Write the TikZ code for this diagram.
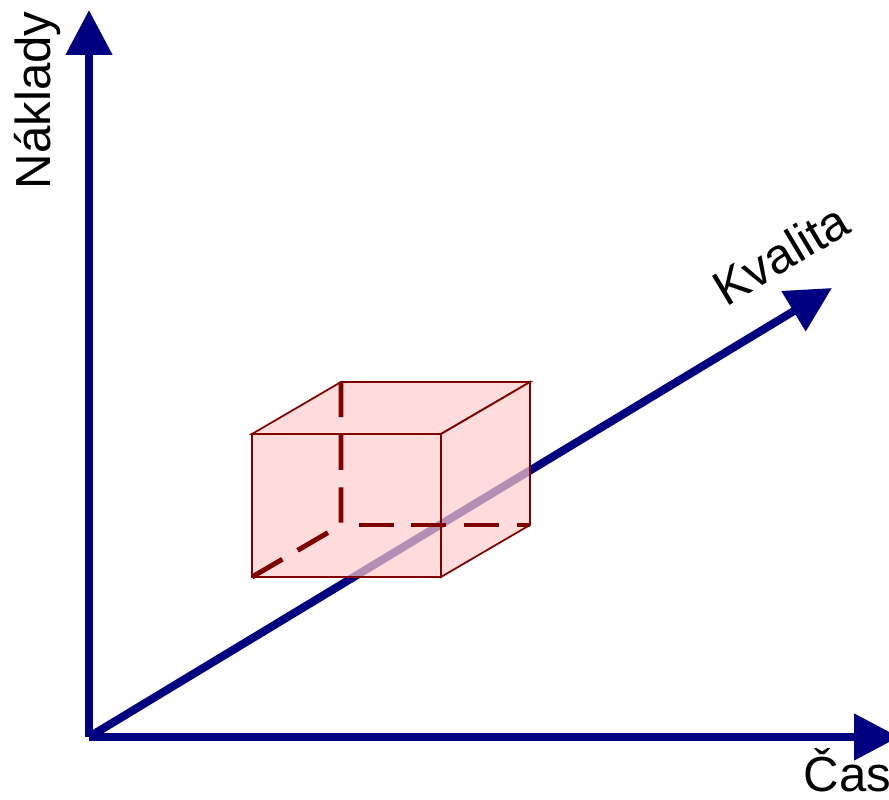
\documentclass[tikz,border=0pt]{standalone}
\usepackage{fontspec}
\setmainfont{Liberation Sans}
\usetikzlibrary{arrows.meta}
\definecolor{axisblue}{RGB}{0,0,128}
\definecolor{cubered}{RGB}{128,0,0}
\definecolor{cubepink}{RGB}{255,205,205}

\begin{document}
\begin{tikzpicture}[>={Triangle[width=0.45cm,length=0.45cm]},
  axis/.style={->, line width=2.3pt, axisblue},
  face/.style={fill=cubepink, fill opacity=0.7, draw=cubered, line width=0.5pt},
  hidden/.style={cubered, line width=1.4pt, dash pattern=on 10pt off 5pt},
  lab/.style={font=\fontsize{14}{16}\selectfont, text=black, inner sep=0pt}]

\useasboundingbox (0,0) rectangle (8.89,8.00);

% --- Axis end points ---
\coordinate (O) at (0.89,0.63);
\coordinate (naklady) at (0.89,7.90);
\coordinate (cas) at (8.99,0.63);
\coordinate (kvalita) at (8.32,5.12);

% --- Axes (drawn first so the cube covers the diagonal) ---
\draw[axis] (O) -- (naklady);
\draw[axis] (O) -- (cas);
\draw[axis] (O) -- (kvalita);

% --- Cube corners: front face, then back face ---
\coordinate (A) at (2.52,2.23);
\coordinate (B) at (4.41,2.23);
\coordinate (C) at (4.41,3.66);
\coordinate (D) at (2.52,3.66);
\coordinate (E) at (3.41,2.75);
\coordinate (F) at (5.30,2.75);
\coordinate (G) at (5.30,4.18);
\coordinate (H) at (3.41,4.18);

% --- Faces ---
\draw[face] (D) -- (C) -- (G) -- (H) -- cycle;
\draw[face] (B) -- (F) -- (G) -- (C) -- cycle;
\draw[face] (A) -- (B) -- (C) -- (D) -- cycle;

% --- Hidden edges ---
\draw[hidden] (H) -- (E) -- (A);
\draw[hidden, dash phase=10pt] (E) -- (F);

% --- Front edges on top ---
\draw[cubered, line width=0.8pt] (A) -- (B) -- (C) -- (D) -- cycle;

% --- Axis labels ---
\node[lab, rotate=90, anchor=base west] (nakladylab) at (0.50,6.10) {Náklady};
\node[lab, rotate=31] (kvalitalab) at (7.81,5.46) {Kvalita};
\node[lab, anchor=base west] (caslab) at (8.03,0.08) {Čas};

\end{tikzpicture}
\end{document}
